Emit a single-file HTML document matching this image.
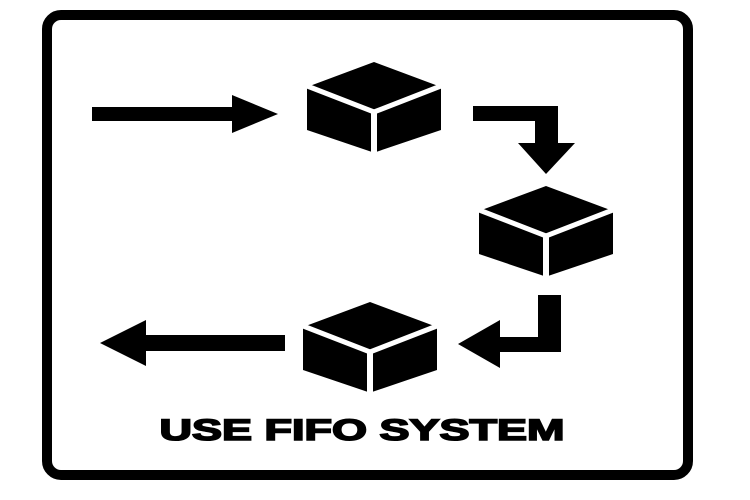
<!DOCTYPE html>
<html><head><style>html,body{margin:0;padding:0;background:#fff;}svg{display:block}</style></head>
<body>
<svg width="750" height="500" viewBox="0 0 750 500" xmlns="http://www.w3.org/2000/svg">
<rect x="47" y="15" width="641" height="460" rx="14" fill="none" stroke="#000" stroke-width="10"/>
<defs>
<g id="cube">
<polygon points="0,0 67,25 67,68 2,90 -2,90 -67,68 -67,25" fill="#000"/>
<polyline points="-72,22 0,50 72,22" fill="none" stroke="#fff" stroke-width="5"/>
<line x1="0" y1="50" x2="0" y2="96" stroke="#fff" stroke-width="6"/>
</g>
</defs>
<use href="#cube" x="374" y="62"/>
<use href="#cube" x="546" y="186"/>
<use href="#cube" x="370" y="302"/>
<rect x="92" y="107" width="142" height="14" fill="#000"/>
<polygon points="232,95 278,114 232,133" fill="#000"/>
<polygon points="473,106 558,106 558,145 535,145 535,121 473,121" fill="#000"/>
<polygon points="518,143 575,143 546,174" fill="#000"/>
<polygon points="538,295 561,295 561,352 498,352 498,337 538,337" fill="#000"/>
<polygon points="500,320 458,344 500,368" fill="#000"/>
<rect x="144" y="335" width="141" height="16" fill="#000"/>
<polygon points="146,320 100,343 146,366" fill="#000"/>
<text x="362" y="440" text-anchor="middle" font-family="Liberation Sans, sans-serif" font-weight="bold" font-size="30" stroke="#000" stroke-width="1.6" textLength="405" lengthAdjust="spacingAndGlyphs">USE FIFO SYSTEM</text>
</svg>
</body></html>
